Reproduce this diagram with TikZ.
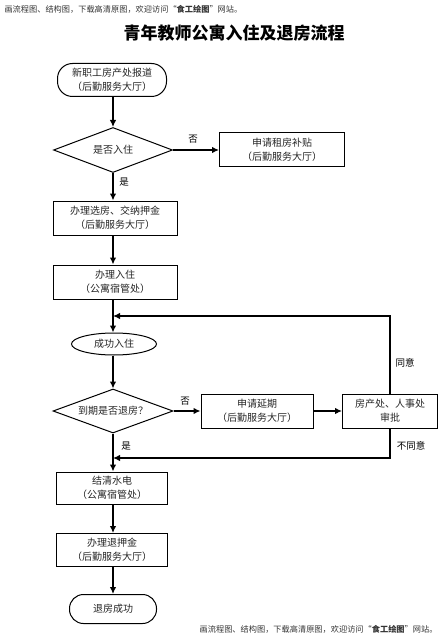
\documentclass[tikz,border=0pt]{standalone}
\usepackage{fontspec}
\setmainfont{Noto Sans CJK SC}
\usetikzlibrary{shapes.geometric,arrows.meta}
\begin{document}
\begin{tikzpicture}[x=1pt,y=-1pt,
  every node/.style={font=\fontsize{10}{14}\selectfont, text=black!85},
  stadium/.style={draw, line width=1pt, minimum width=#1, rounded corners=15pt, align=center, inner sep=0pt},
  stepbox/.style={draw, line width=1pt, minimum width=#1, minimum height=34pt, align=center, inner sep=0pt},
  decide/.style={draw, diamond, aspect=2.7, line width=1pt, minimum width=119pt, minimum height=45pt, inner sep=0pt},
  oval/.style={draw, ellipse, line width=1pt, minimum width=85pt, minimum height=22pt, inner sep=0pt},
  flow/.style={line width=1.2pt, -{Latex[length=7pt,width=6.5pt]}},
  lbl/.style={font=\fontsize{9.5}{11}\selectfont, text=black},
  wm/.style={font=\fontsize{8.2}{9}\selectfont, text=black!80}
]
\useasboundingbox (0,0) rectangle (444,639);
% watermarks and title
\node[wm, anchor=west] (wmtop) at (1,9) {画流程图、结构图，下载高清原图，欢迎访问“\textbf{食工绘图}”网站。};
\node[wm, anchor=east] (wmbot) at (441,629) {画流程图、结构图，下载高清原图，欢迎访问“\textbf{食工绘图}”网站。};
\node[font=\fontsize{17}{20}\selectfont\bfseries, text=black] (title) at (234,33) {青年教师公寓入住及退房流程};
% nodes
\node[stadium=109pt, minimum height=33pt] (start) at (112,80) {新职工房产处报道\\（后勤服务大厅）};
\node[decide] (d1) at (113,150) {是否入住};
\node[stepbox=125pt] (sub) at (282,150) {申请租房补贴\\（后勤服务大厅）};
\node[stepbox=124pt] (xf) at (115,218) {办理选房、交纳押金\\（后勤服务大厅）};
\node[stepbox=124pt] (rz) at (115,282) {办理入住\\（公寓宿管处）};
\node[oval] (cg) at (114,344) {成功入住};
\node[decide, minimum width=120pt, minimum height=44pt] (d2) at (113,411) {到期是否退房？};
\node[stepbox=112pt] (yq) at (257,411) {申请延期\\（后勤服务大厅）};
\node[stepbox=95pt] (sp) at (390,411) {房产处、人事处\\审批};
\node[stepbox=111pt, minimum height=32pt] (jq) at (112,488) {结清水电\\（公寓宿管处）};
\node[stepbox=111pt, minimum height=33pt] (tyj) at (112,550) {办理退押金\\（后勤服务大厅）};
\node[stadium=87pt, minimum height=29pt, rounded corners=14pt] (end) at (113,609) {退房成功};
\coordinate (loopin) at (113,316);
\coordinate (retin) at (113,458);
% connectors (main spine at x = 113)
\draw[flow] (start.south-|d1.north) -- (d1.north);
\draw[flow] (d1.east) -- (sub.west);
\node[lbl] (no1) at (193,139) {否};
\draw[flow] (d1.south) -- (d1.south|-xf.north);
\node[lbl] (yes1) at (124,182) {是};
\draw[flow] (xf.south-|d1.south) -- (rz.north-|d1.south);
\draw[flow] (rz.south-|d1.south) -- (cg.north-|d1.south);
\draw[flow] (cg.south-|d1.south) -- (d2.north);
\draw[flow] (d2.east) -- (yq.west);
\node[lbl] (no2) at (185,401) {否};
\draw[flow] (yq) -- (sp);
\draw[flow] (sp.north) |- (loopin);
\node[lbl] (ok) at (405,363) {同意};
\draw[flow] (sp.south) |- (retin);
\node[lbl] (nok) at (411,446) {不同意};
\draw[flow] (d2.south) -- (d2.south|-jq.north);
\node[lbl] (yes2) at (126,446) {是};
\draw[flow] (jq.south-|d2.south) -- (tyj.north-|d2.south);
\draw[flow] (tyj.south-|d2.south) -- (end.north);
\end{tikzpicture}
\end{document}
